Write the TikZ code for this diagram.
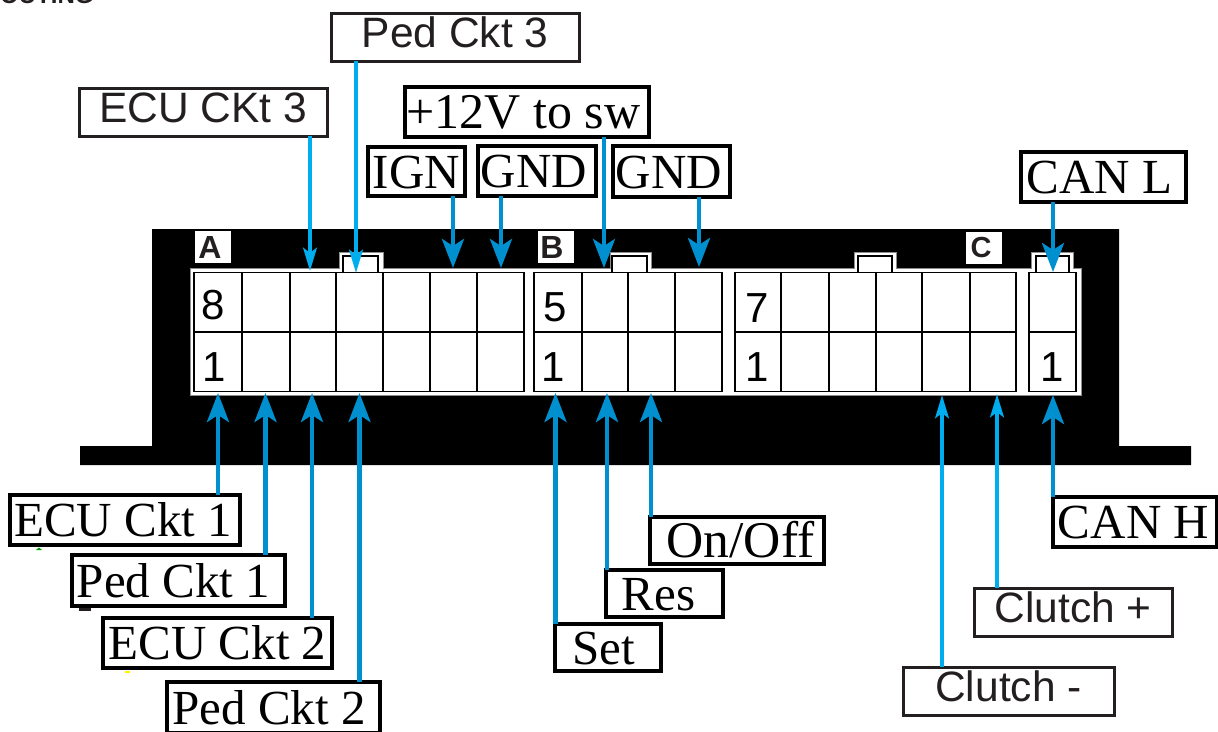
\documentclass[tikz,border=0pt]{standalone}
\usepackage{fontspec}
\setmainfont{Liberation Serif}
\setsansfont{Liberation Sans}
\usetikzlibrary{arrows.meta}
\definecolor{wireA}{HTML}{00AEEF}
\definecolor{wireB}{HTML}{0090D0}
\definecolor{inkline}{HTML}{231F20}
\tikzset{
  x=1pt,y=-1pt,
  sanslab/.style={draw=inkline,fill=white,line width=3pt,inner sep=0pt,outer sep=0pt,text=inkline,
     font=\sffamily\fontsize{42.5}{42.5}\selectfont,text height=31pt,text depth=10pt},
  seriflab/.style={draw=black,fill=white,line width=3.6pt,inner sep=0pt,outer sep=0pt,text=black,
     font=\rmfamily\fontsize{49}{49}\selectfont,text height=33pt,text depth=0pt},
  wirelight/.style={draw=wireA,line width=4.8pt,-{Stealth[length=23pt,width=13.5pt,inset=5pt]}},
  wiredark/.style={draw=wireB,line width=4.4pt,-{Stealth[length=29pt,width=22pt,inset=7pt]}},
  pinnum/.style={inner sep=0pt,anchor=base,font=\sffamily\fontsize{42}{42}\selectfont},
  bank/.style={fill=white,inner sep=0pt,font=\sffamily\bfseries\fontsize{32}{32}\selectfont,text=inkline,minimum width=36pt,minimum height=32pt},
  gridline/.style={draw=black,line width=1.6pt},
  latch/.style={draw=black,line width=1.4pt,fill=white},
}
\newcommand{\labelbox}[7]{\node[#2,minimum width={(#5-#3)*1pt},minimum height={(#6-#4)*1pt}] (#1) at ({(#3+#5)/2},{(#4+#6)/2}) {#7};}
\begin{document}
\begin{tikzpicture}
\useasboundingbox (0,0) rectangle (1218,731);
% clipped caption fragment at the page top
\node[inner sep=0pt,anchor=base west,font=\sffamily\bfseries\fontsize{24}{24}\selectfont,text=inkline] (cap) at (0,3) {OUTING};
% enclosure
\fill[black] (152,229) -- (1119,229) -- (1119,446) -- (1191,446) -- (1191,465) -- (80,465) -- (80,446) -- (152,446) -- cycle;
% white connector frame with latches
\fill[white,draw=black!45,line width=1pt]
  (190,268) -- (339,268) -- (339,252) -- (383,252) -- (383,268)
  -- (610,268) -- (610,252) -- (651,252) -- (651,268)
  -- (854,268) -- (854,252) -- (896,252) -- (896,268)
  -- (1031,268) -- (1031,252) -- (1073,252) -- (1073,268)
  -- (1081,268) -- (1081,395) -- (190,395) -- cycle;
\draw[latch] (343,256) rectangle (378,273);
\draw[latch] (612,256) rectangle (647,273);
\draw[latch] (858,256) rectangle (892,273);
\draw[latch] (1036,256) rectangle (1069,273);
% cavity grids
\foreach \xa/\xb/\cols in {194/524/{242,290,336,383,430,477},
                           534/722/{582,628,675},
                           735/1016/{781,829,876,922,970},
                           1029/1076/{}}{
  \draw[gridline,fill=white] (\xa,272.5) rectangle (\xb,391.5);
  \draw[gridline] (\xa,332) -- (\xb,332);
  \foreach \c in \cols { \draw[gridline] (\c,272.5) -- (\c,391.5); }
}
% pin numbers
\node[pinnum] (n8) at (213.5,319) {8};
\node[pinnum] (n1a) at (214,381) {1};
\node[pinnum] (n5) at (555,321) {5};
\node[pinnum] (n1b) at (553,381) {1};
\node[pinnum] (n7) at (757,322) {7};
\node[pinnum] (n1c) at (757,381) {1};
\node[pinnum] (n1d) at (1052,381) {1};
% bank letters
\node[bank] (bankA) at (213,247) {A\kern6pt};
\node[bank] (bankB) at (556,247) {B\kern8pt};
\node[bank,font=\sffamily\bfseries\fontsize{29}{29}\selectfont] (bankC) at (984,248) {C\kern6pt};
% labels
\labelbox{ped3}{sanslab}{331}{13}{579}{61}{Ped Ckt 3}
\labelbox{ecu3}{sanslab}{79}{88}{327}{136}{ECU CKt 3}
\labelbox{clutchp}{sanslab}{974}{588}{1172}{636}{Clutch +}
\labelbox{clutchm}{sanslab}{903}{667}{1114}{715}{Clutch -}
\labelbox{plus12}{seriflab,font=\rmfamily\fontsize{50}{50}\selectfont}{405}{87}{649}{137}{+12V to sw\kern7pt}
\labelbox{ign}{seriflab}{368}{147}{465}{196}{IGN}
\labelbox{gnda}{seriflab}{478}{146}{596}{196}{GND\kern6pt}
\labelbox{gndb}{seriflab}{613}{146}{730}{197}{GND\kern5pt}
\labelbox{canl}{seriflab}{1021}{152}{1186}{202}{CAN L\kern8pt}
\labelbox{ecua}{seriflab}{10}{495}{240}{545}{ECU Ckt 1\kern4pt}
\labelbox{peda}{seriflab}{72}{555}{285}{606}{Ped Ckt 1\kern10pt}
\labelbox{ecub}{seriflab}{103}{618}{332}{668}{ECU Ckt 2}
\labelbox{pedb}{seriflab}{167}{682}{380}{733}{Ped Ckt 2\kern9pt}
\labelbox{onoff}{seriflab,font=\rmfamily\fontsize{51.5}{51.5}\selectfont}{650}{517}{824}{564}{\kern7pt On/Off}
\labelbox{res}{seriflab}{606}{570}{723}{617}{Res\kern12pt}
\labelbox{setb}{seriflab}{555}{624}{661}{671}{Set\kern8pt}
\labelbox{canh}{seriflab}{1053}{497}{1217}{547}{CAN H\kern3pt}
% connector end points
\coordinate (tEcu3) at (310,271);
\coordinate (tPed3) at (356,273);
\coordinate (tIgn) at (453,268);
\coordinate (tGnda) at (501,268);
\coordinate (tPlus) at (604,268);
\coordinate (tGndb) at (699,267);
\coordinate (tCanl) at (1053,272);
\coordinate (tEcua) at (218,393);
\coordinate (tPeda) at (265.5,393);
\coordinate (tEcub) at (312,393);
\coordinate (tPedb) at (359.5,393);
\coordinate (tSet) at (555.5,393);
\coordinate (tRes) at (607,393);
\coordinate (tOn) at (651,393);
\coordinate (tClm) at (942,395);
\coordinate (tClp) at (997,394);
\coordinate (tCanh) at (1053,395);
% connectors
\draw[wirelight] (ecu3.south -| tEcu3) -- (tEcu3);
\draw[wirelight] (ped3.south -| tPed3) -- (tPed3);
\draw[wiredark] (ign.south -| tIgn) -- (tIgn);
\draw[wiredark] (gnda.south -| tGnda) -- (tGnda);
\draw[wiredark] (plus12.south -| tPlus) -- (tPlus);
\draw[wiredark] (gndb.south -| tGndb) -- (tGndb);
\draw[wiredark] (canl.south -| tCanl) -- (tCanl);
\draw[wiredark] (ecua.north -| tEcua) -- (tEcua);
\draw[wiredark] (peda.north -| tPeda) -- (tPeda);
\draw[wiredark] (ecub.north -| tEcub) -- (tEcub);
\draw[wiredark] (pedb.north -| tPedb) -- (tPedb);
\draw[wiredark] (setb.north -| tSet) -- (tSet);
\draw[wiredark] (res.north -| tRes) -- (tRes);
\draw[wiredark] (onoff.north -| tOn) -- (tOn);
\draw[wirelight] (clutchm.north -| tClm) -- (tClm);
\draw[wirelight] (clutchp.north -| tClp) -- (tClp);
\draw[wiredark] (canh.north -| tCanh) -- (tCanh);
% small print specks below the left labels
\fill[green!60!black] (36,550) -- (39,547.5) -- (42,550) -- cycle;
\fill[inkline] (79,607.5) rectangle (91,610.5);
\fill[yellow] (125,671) rectangle (130,672.5);
\end{tikzpicture}
\end{document}
